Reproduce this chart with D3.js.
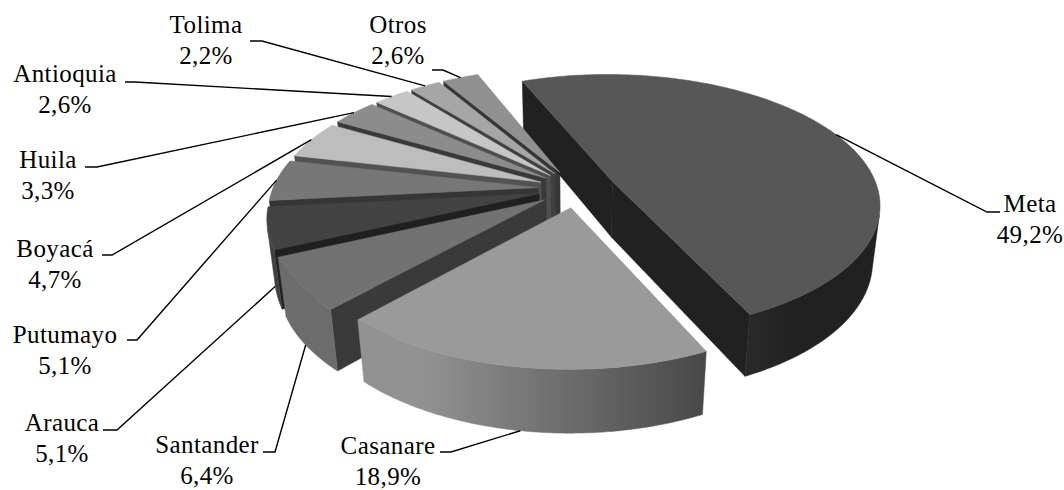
<!DOCTYPE html>
<html lang="es">
<head>
<meta charset="utf-8">
<title>Participación por departamento</title>
<script src="https://cdn.jsdelivr.net/npm/d3@7"></script>
<style>
  html, body { margin: 0; padding: 0; background: #fff; }
  svg { display: block; }
</style>
</head>
<body>
<svg id="chart" width="1064" height="490"></svg>
<script>
// data, clockwise from the first slice
const categories = ["Meta", "Casanare", "Santander", "Arauca", "Putumayo", "Boyacá", "Huila", "Antioquia", "Tolima", "Otros"];
const shares = [49.2, 18.9, 6.4, 5.1, 5.1, 4.7, 3.3, 2.6, 2.2, 2.6];

// slice colours (top faces)
const fills = ["#575757", "#9a9a9a", "#727272", "#434343", "#777777", "#bdbdbd", "#8c8c8c", "#c6c6c6", "#a6a6a6", "#909090"];

// where each label sits: text centre, first baseline, leader start and elbow
const labelLayout = [
  { x: 1030, y: 212, l0: [1000, 212], l1: [987, 212] },
  { x: 388,  y: 454, l0: [440, 452],  l1: [451, 452] },
  { x: 207,  y: 453, l0: [263, 452],  l1: [275, 452] },
  { x: 62,   y: 431, l0: [103, 430],  l1: [117, 430] },
  { x: 65,   y: 343, l0: [127, 340],  l1: [137, 340] },
  { x: 55,   y: 257, l0: [102, 255],  l1: [112, 255] },
  { x: 48,   y: 168, l0: [85, 167],   l1: [97, 167] },
  { x: 65,   y: 82,  l0: [125, 82],   l1: [135, 82] },
  { x: 206,  y: 33,  l0: [250, 41],   l1: [262, 41] },
  { x: 398,  y: 33,  l0: [432, 70],   l1: [443, 70] }
];

// 3d view
const rad = Math.PI / 180;
const cx = 577, cy = 245;       // screen point of the base centre
const R = 259, depth = 64, explode = 38;
const tilt = 31 * rad, cosT = Math.cos(tilt), sinT = Math.sin(tilt);
const camD = 1350;
const startDeg = -22;

const svg = d3.select("#chart");
const defs = svg.append("defs");
const gWalls = svg.append("g");
const gTops = svg.append("g");
const gLabels = svg.append("g")
  .attr("font-family", "'Liberation Serif', 'Times New Roman', serif")
  .attr("font-size", 25)
  .attr("letter-spacing", 0.4);

const pie = d3.pie().sort(null).value(d => d)
  .startAngle(startDeg * rad).endAngle((startDeg + 360) * rad);
const arcs = pie(shares);

const cam = [0, camD * sinT, -camD * cosT];
function proj(p) {
  const zp = p[2] * cosT - p[1] * sinT;
  const s = camD / (camD + zp);
  return [cx + p[0] * s, cy - (p[1] * cosT + p[2] * sinT) * s];
}
function viewDepth(p) { return p[2] * cosT - p[1] * sinT; }
function shade(col, f) {
  const c = d3.rgb(col);
  return d3.rgb(c.r * f, c.g * f, c.b * f).formatHex();
}
function centroid(pts) {
  return [0, 1, 2].map(k => d3.mean(pts, p => p[k]));
}
function facesCam(nrm, at) {
  return nrm[0] * (cam[0] - at[0]) + nrm[1] * (cam[1] - at[1]) + nrm[2] * (cam[2] - at[2]) > 0;
}
const wallShade = nx => Math.max(0.38, Math.min(0.95, 0.7 - 0.55 * nx));

const walls = [], tops = [], anchors = [];

arcs.forEach((a, i) => {
  const a0 = a.startAngle, a1 = a.endAngle, mid = (a0 + a1) / 2;
  const ox = explode * Math.sin(mid), oz = explode * Math.cos(mid);
  const P = (t, r, y) => [ox + r * Math.sin(t), y, oz + r * Math.cos(t)];

  // outer curved wall: keep the part that faces the camera, one piece with a gradient
  const n = Math.max(4, Math.ceil((a1 - a0) / (0.5 * rad)));
  let ts = d3.range(n + 1).map(k => a0 + (a1 - a0) * k / n);
  ts = ts.filter(t => facesCam([Math.sin(t), 0, Math.cos(t)], P(t, R, depth / 2)));
  if (ts.length > 1) {
    const top = ts.map(t => P(t, R, depth)), bot = ts.map(t => P(t, R, 0)).reverse();
    const xs = ts.map(t => proj(P(t, R, depth))[0]);
    const xmin = d3.min(xs), xmax = d3.max(xs);
    const id = "wall" + i;
    const grad = defs.append("linearGradient").attr("id", id)
      .attr("gradientUnits", "userSpaceOnUse")
      .attr("x1", xmin).attr("x2", xmax).attr("y1", 0).attr("y2", 0);
    const stops = ts.map((t, k) => ({ o: (xs[k] - xmin) / Math.max(1e-6, xmax - xmin), c: shade(fills[i], wallShade(Math.sin(t))) }))
      .sort((p, q) => p.o - q.o);
    grad.selectAll("stop").data(stops).join("stop")
      .attr("offset", d => d.o).attr("stop-color", d => d.c);
    const pts = top.concat(bot);
    walls.push({ pts, key: centroid(pts), color: "url(#" + id + ")" });
  }

  // the two radial walls
  [[a0, [-Math.cos(a0), 0, Math.sin(a0)]], [a1, [Math.cos(a1), 0, -Math.sin(a1)]]].forEach(([t, nrm]) => {
    const quad = [P(0, 0, depth), P(t, R, depth), P(t, R, 0), P(0, 0, 0)];
    const c = centroid(quad);
    if (facesCam(nrm, c)) walls.push({ pts: quad, key: c, color: shade(fills[i], 0.45 + 0.08 * nrm[0]) });
  });

  // top face
  const m = Math.max(4, Math.ceil((a1 - a0) / rad));
  const poly = [P(0, 0, depth)];
  for (let k = 0; k <= m; k++) poly.push(P(a0 + (a1 - a0) * k / m, R, depth));
  tops.push({ poly, color: fills[i] });

  // leader target: top rim for back slices, base rim for front ones
  anchors.push(proj(P(mid, R, Math.cos(mid) < 0 ? 0 : depth)));
});

// paint walls far to near
walls.sort((a, b) => viewDepth(b.key) - viewDepth(a.key));

const line = d3.line();

gWalls.selectAll("path").data(walls).join("path")
  .attr("d", d => line(d.pts.map(proj)) + "Z")
  .attr("fill", d => d.color)
  .attr("stroke", d => d.color)
  .attr("stroke-width", 0.5)
  .attr("stroke-linejoin", "round");

gTops.selectAll("path").data(tops).join("path")
  .attr("d", d => line(d.poly.map(proj)) + "Z")
  .attr("fill", d => d.color)
  .attr("stroke", d => d.color)
  .attr("stroke-width", 0.5)
  .attr("stroke-linejoin", "round");

// labels
const pct = v => d3.format(".1f")(v).replace(".", ",") + "%";

gLabels.selectAll("path").data(labelLayout).join("path")
  .attr("d", (d, i) => line([d.l0, d.l1, anchors[i]]))
  .attr("fill", "none")
  .attr("stroke", "#000")
  .attr("stroke-width", 1.4);

const txt = gLabels.selectAll("text").data(labelLayout).join("text")
  .attr("text-anchor", "middle")
  .attr("fill", "#000");
txt.append("tspan").attr("x", d => d.x).attr("y", d => d.y).text((d, i) => categories[i]);
txt.append("tspan").attr("x", d => d.x).attr("y", d => d.y + 31).text((d, i) => pct(shares[i]));
</script>
</body>
</html>
